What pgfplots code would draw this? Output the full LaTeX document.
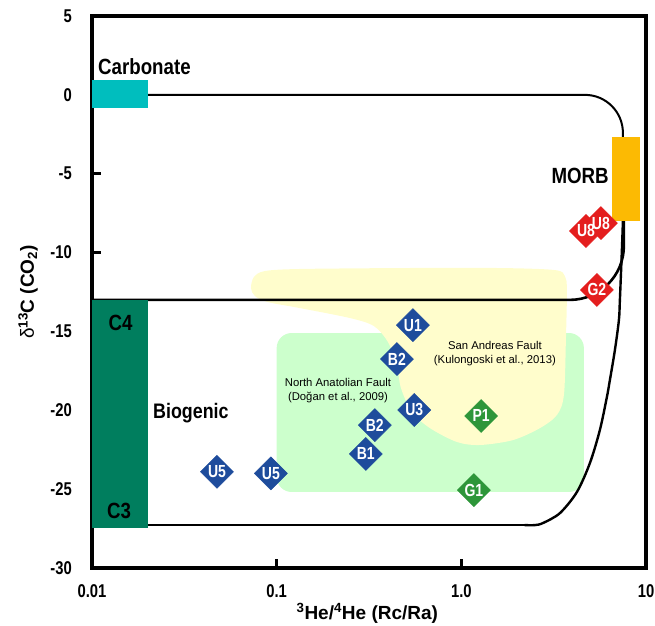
\documentclass[border=0pt]{standalone}
\usepackage{fontspec}
\setmainfont{Liberation Sans}
\newfontfamily\cond{Liberation Sans}[FakeStretch=0.85]
\newfontfamily\condd{Liberation Sans}[FakeStretch=0.8]
\usepackage{pgfplots}
\pgfplotsset{compat=1.18}
\definecolor{carb}{RGB}{0,190,190}
\definecolor{morb}{RGB}{252,186,3}
\definecolor{bio}{RGB}{0,126,94}
\definecolor{yel}{RGB}{255,253,204}
\definecolor{grn}{RGB}{204,255,204}
\definecolor{dblue}{RGB}{30,76,156}
\definecolor{dgreen}{RGB}{46,150,58}
\definecolor{dred}{RGB}{228,30,30}
\pgfplotsset{
  diam/.style={only marks, mark=square*, mark size=11.7pt, mark options={rotate=45, fill=#1, draw=#1}},
  diamlab/.style={only marks, mark=none, nodes near coords, point meta=explicit symbolic,
    every node near coord/.append style={anchor=center, inner sep=0pt, text=white, font=\condd\bfseries\fontsize{17.5}{17.5}\selectfont}},
}
\begin{document}
\begin{tikzpicture}
\path[use as bounding box] (-92pt,-57pt) rectangle (563pt,568pt);
\begin{axis}[
  at={(0,0)}, anchor=south west,
  scale only axis, width=554pt, height=552pt,
  xmode=log, xmin=0.01, xmax=10, ymin=-30, ymax=5,
  xtick={0.01,0.1,1,10}, xticklabels={0.01,0.1,1.0,10},
  xminorticks=false,
  ytick={-30,-25,-20,-15,-10,-5,0,5},
  yticklabels={-30,-25,-20,-15,-10,-5,0,5},
  tick align=inside, xtick pos=bottom, ytick pos=left,
  major tick length=9pt,
  every tick/.style={black, line width=3pt},
  axis line style={line width=3.3pt},
  xticklabel style={font=\condd\bfseries\fontsize{18.5}{20}\selectfont, anchor=base, yshift=-29pt},
  yticklabel style={font=\condd\bfseries\fontsize{18.5}{20}\selectfont, anchor=east, inner sep=0pt, xshift=-20pt},
  xlabel={\textsuperscript{3}He/\textsuperscript{4}He (Rc/Ra)},
  xlabel style={font=\bfseries\fontsize{19}{20}\selectfont, at={(axis description cs:0.497,0)}, anchor=base, yshift=-51pt},
  ylabel={{\mdseries δ}\textsuperscript{13}C (CO\textsubscript{2})},
  ylabel style={font=\bfseries\fontsize{19}{20}\selectfont, at={(axis description cs:-0.1155,0.5)}, anchor=center},
]
% regions
\addplot[draw=none, fill=grn, rounded corners=15pt] coordinates {(1,-15.1) (4.61,-15.1) (4.61,-25.18) (0.1,-25.18) (0.1,-15.1) (1,-15.1)};
\addplot[draw=none, fill=yel, smooth, tension=0.5] coordinates {
(0.4651,-10.98) (1.618,-10.98) (3.213,-11.11) (3.638,-11.49) (3.730,-12.37) (3.684,-15.55) (3.594,-19.03) (3.293,-20.30) (2.665,-21.13) (1.903,-21.89) (1.261,-22.20) (0.9467,-22.01) (0.6761,-21.13) (0.5402,-20.11) (0.4710,-18.59) (0.4481,-17.13) (0.4005,-15.67) (0.3363,-14.66) (0.2493,-14.15) (0.1337,-13.52) (0.0897,-13.14) (0.0763,-12.76) (0.0726,-12.25) (0.0753,-11.55) (0.0864,-11.17) (0.1337,-11.04) (0.4651,-10.98)};
% outlines
\addplot[black, line width=2pt, rounded corners=38pt] coordinates {(0.01,0) (7.50,0) (7.50,-8)};
\addplot[black, line width=2.6pt, rounded corners=54pt] coordinates {(0.01,-13) (7.59,-13) (7.59,-8)};
\addplot[black, line width=2.4pt] coordinates {(0.01,-27.28) (2.2,-27.28)};
\addplot[black, line width=2.4pt, smooth, tension=0.5] coordinates {(2.2,-27.28) (2.503,-27.28) (2.766,-27.15) (3.419,-26.52) (4.226,-25.18) (4.971,-23.34) (5.627,-21.25) (6.141,-19.16) (6.376,-18.08) (6.786,-16.18) (7.133,-14.28) (7.222,-13.01) (7.405,-9.84) (7.50,-8.0)};
% source boxes
\addplot[draw=none, fill=carb] coordinates {(0.01,0.94) (0.0201,0.94) (0.0201,-0.83) (0.01,-0.83)};
\addplot[draw=none, fill=bio] coordinates {(0.01,-13.0) (0.0201,-13.0) (0.0201,-27.47) (0.01,-27.47)};
\addplot[draw=none, fill=morb] coordinates {(6.53,-2.67) (9.27,-2.67) (9.27,-8.0) (6.53,-8.0)};
% text
\node[font=\cond\bfseries\fontsize{22}{24}\selectfont, anchor=base west, inner sep=0pt] at (axis cs:0.01078,1.32) {Carbonate};
\node[font=\cond\bfseries\fontsize{22}{24}\selectfont, anchor=base east, inner sep=0pt] at (axis cs:6.30,-5.65) {MORB};
\node[font=\cond\bfseries\fontsize{22}{24}\selectfont, anchor=base, inner sep=0pt] at (axis cs:0.01426,-14.91) {C4};
\node[font=\cond\bfseries\fontsize{22}{24}\selectfont, anchor=base, inner sep=0pt] at (axis cs:0.0140,-26.83) {C3};
\node[font=\cond\bfseries\fontsize{21}{24}\selectfont, anchor=base west, inner sep=0pt] at (axis cs:0.0214,-20.49) {Biogenic};
\node[font=\fontsize{11.3}{14}\selectfont, align=center, inner sep=0pt] at (axis cs:0.2148,-18.72) {North Anatolian Fault\\(Doğan et al., 2009)};
\node[font=\fontsize{11.3}{14}\selectfont, align=center, inner sep=0pt] at (axis cs:1.52,-16.43) {San Andreas Fault\\(Kulongoski et al., 2013)};
% samples
\addplot[diam=dblue] table {
x y
0.547 -14.6
0.448 -16.75
0.556 -19.98
0.340 -20.94
0.304 -22.77
0.0475 -23.9
0.093 -24.0
};
\addplot[diam=dgreen] table {
x y
1.28 -20.36
1.17 -25.06
};
\addplot[diam=dred] table {
x y
5.70 -8.13
4.73 -8.63
5.42 -12.37
};
\addplot[diamlab] table[meta=label] {
x y label
0.547 -14.6 U1
0.448 -16.75 B2
0.556 -19.98 U3
0.340 -20.94 B2
0.304 -22.77 B1
0.0475 -23.9 U5
0.093 -24.0 U5
1.28 -20.36 P1
1.17 -25.06 G1
4.73 -8.63 U8
5.70 -8.13 U8
5.42 -12.37 G2
};
\end{axis}
\end{tikzpicture}
\end{document}
